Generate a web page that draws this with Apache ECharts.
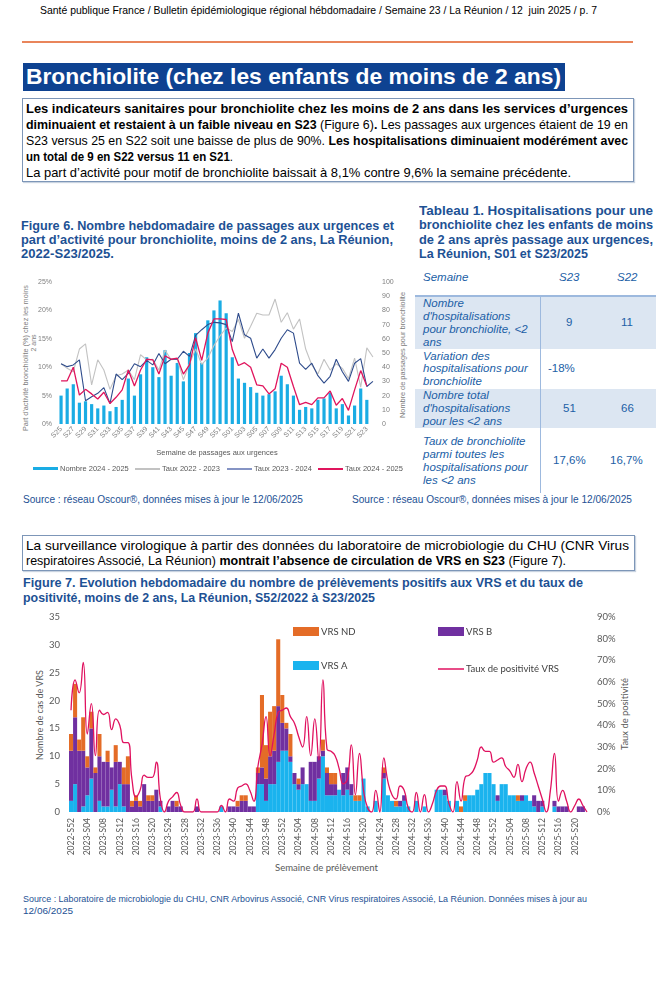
<!DOCTYPE html>
<html><head><meta charset="utf-8">
<script src="https://cdn.jsdelivr.net/npm/echarts@6/dist/echarts.min.js"></script>
<style>
html,body{margin:0;padding:0;background:#fff;}
body{width:664px;height:1000px;position:relative;overflow:hidden;font-family:"Liberation Sans Narrow","Liberation Sans",Arial,sans-serif;color:#000;}
.ln{position:absolute;white-space:nowrap;line-height:1;transform-origin:0 50%;}
.rot{position:absolute;white-space:nowrap;line-height:1;transform-origin:50% 50%;}
.tb{font-weight:bold;color:#1d5194;font-size:13px;}
.tt{font-style:italic;color:#2160a6;font-size:11.5px;font-family:"Liberation Sans",Arial,sans-serif;}
.tv{color:#2160a6;font-size:11.5px;font-family:"Liberation Sans",Arial,sans-serif;}
.src{color:#1d5194;font-size:10px;}
.box{position:absolute;border:1px solid #7d96b8;box-shadow:1px 1px 1px #c9d3e0;}
.an6{font-size:7px;color:#808080;font-family:"Liberation Sans",Arial,sans-serif;}
.an7{font-size:10px;color:#595959;font-family:Lato,"Open Sans",sans-serif;}
</style></head>
<body>
<!-- header -->
<div class="ln" style="left:40px;top:5px;font-size:11px;" data-w="557">Santé publique France / Bulletin épidémiologique régional hébdomadaire / Semaine 23 / La Réunion / 12&nbsp; juin 2025 / p. 7</div>
<div style="position:absolute;left:22px;top:41px;width:611px;height:2px;background:#e9855b;"></div>
<div style="position:absolute;left:23px;top:63px;width:542px;height:28px;background:#0e4291;"></div>
<div class="ln" style="left:26px;top:66px;font-size:22px;font-weight:bold;color:#fff;font-family:'Liberation Sans',Arial,sans-serif;" data-w="535">Bronchiolite (chez les enfants de moins de 2 ans)</div>

<!-- paragraph 1 -->
<div class="box" style="left:22px;top:98px;width:610px;height:82px;"></div>
<div class="ln" style="left:26px;top:101.5px;font-size:13px;" data-w="602"><b>Les indicateurs sanitaires pour bronchiolite chez les moins de 2 ans dans les services d’urgences</b></div>
<div class="ln" style="left:26px;top:117.5px;font-size:13px;" data-w="602"><b>diminuaient et restaient à un faible niveau en S23</b> (Figure 6)<b>.</b> Les passages aux urgences étaient de 19 en</div>
<div class="ln" style="left:26px;top:133.5px;font-size:13px;" data-w="602">S23 versus 25 en S22 soit une baisse de plus de 90%. <b>Les hospitalisations diminuaient modérément avec</b></div>
<div class="ln" style="left:26px;top:149.5px;font-size:13px;" data-w="207"><b>un total de 9 en S22 versus 11 en S21</b>.</div>
<div class="ln" style="left:26px;top:165.5px;font-size:13px;" data-w="545">La part d’activité pour motif de bronchiolite baissait à 8,1% contre 9,6% la semaine précédente.</div>

<!-- figure 6 title -->
<div class="ln tb" style="left:21px;top:218.5px;font-family:'Liberation Sans',Arial,sans-serif;" data-w="373">Figure 6. Nombre hebdomadaire de passages aux urgences et</div>
<div class="ln tb" style="left:21px;top:233px;font-family:'Liberation Sans',Arial,sans-serif;" data-w="372">part d’activité pour bronchiolite, moins de 2 ans, La Réunion,</div>
<div class="ln tb" style="left:21px;top:247px;font-family:'Liberation Sans',Arial,sans-serif;" data-w="93">2022-S23/2025.</div>

<!-- figure 6 axis names -->
<div class="rot an6" style="left:25px;top:358px;" data-w="146">Part d'activité bronchiolite (%) chez les moins</div>
<div class="rot an6" style="left:33px;top:343px;">2 ans</div>
<div class="rot an6" style="left:402px;top:355px;" data-w="126">Nombre de passages pour bronchiolite</div>

<!-- table title -->
<div class="ln tb" style="left:419px;top:203.5px;font-family:'Liberation Sans',Arial,sans-serif;" data-w="234">Tableau 1. Hospitalisations pour une</div>
<div class="ln tb" style="left:419px;top:218px;font-family:'Liberation Sans',Arial,sans-serif;" data-w="234">bronchiolite chez les enfants de moins</div>
<div class="ln tb" style="left:419px;top:232.5px;font-family:'Liberation Sans',Arial,sans-serif;" data-w="234">de 2 ans après passage aux urgences,</div>
<div class="ln tb" style="left:419px;top:247px;font-family:'Liberation Sans',Arial,sans-serif;" data-w="169">La Réunion, S01 et S23/2025</div>

<!-- table -->
<div style="position:absolute;left:415px;top:296px;width:241px;height:53px;background:#dce6f2;"></div>
<div style="position:absolute;left:415px;top:389px;width:241px;height:39px;background:#dce6f2;"></div>
<div style="position:absolute;left:415px;top:295px;width:241px;height:2px;background:#9db9de;"></div>
<div style="position:absolute;left:540px;top:297px;width:1px;height:196px;background:#9db9de;"></div>
<div class="ln tt" style="left:423px;top:272px;">Semaine</div>
<div class="ln tt" style="left:559px;top:272px;">S23</div>
<div class="ln tt" style="left:617px;top:272px;">S22</div>
<div class="ln tt" style="left:423px;top:298px;">Nombre</div>
<div class="ln tt" style="left:423px;top:311px;">d'hospitalisations</div>
<div class="ln tt" style="left:423px;top:324px;">pour bronchiolite, &lt;2</div>
<div class="ln tt" style="left:423px;top:337px;">ans</div>
<div class="ln tv" style="left:566px;top:317px;">9</div>
<div class="ln tv" style="left:621px;top:317px;">11</div>
<div class="ln tt" style="left:423px;top:351px;">Variation des</div>
<div class="ln tt" style="left:423px;top:363px;">hospitalisations pour</div>
<div class="ln tt" style="left:423px;top:376px;">bronchiolite</div>
<div class="ln tv" style="left:548px;top:363px;">-18%</div>
<div class="ln tt" style="left:423px;top:390px;">Nombre total</div>
<div class="ln tt" style="left:423px;top:403px;">d'hospitalisations</div>
<div class="ln tt" style="left:423px;top:416px;">pour les &lt;2 ans</div>
<div class="ln tv" style="left:563px;top:403px;">51</div>
<div class="ln tv" style="left:621px;top:403px;">66</div>
<div class="ln tt" style="left:423px;top:436px;">Taux de bronchiolite</div>
<div class="ln tt" style="left:423px;top:449px;">parmi toutes les</div>
<div class="ln tt" style="left:423px;top:462px;">hospitalisations pour</div>
<div class="ln tt" style="left:423px;top:475px;">les &lt;2 ans</div>
<div class="ln tv" style="left:553px;top:455px;">17,6%</div>
<div class="ln tv" style="left:610px;top:455px;">16,7%</div>

<!-- sources fig 6 / table -->
<div class="ln src" style="left:23px;top:495px;" data-w="280">Source : réseau Oscour®, données mises à jour le 12/06/2025</div>
<div class="ln src" style="left:352px;top:495px;" data-w="280">Source : réseau Oscour®, données mises à jour le 12/06/2025</div>

<!-- paragraph 2 -->
<div class="box" style="left:22px;top:535px;width:611px;height:34px;"></div>
<div class="ln" style="left:26px;top:538.5px;font-size:13px;" data-w="603">La surveillance virologique à partir des données du laboratoire de microbiologie du CHU (CNR Virus</div>
<div class="ln" style="left:26px;top:553.5px;font-size:13px;" data-w="540">respiratoires Associé, La Réunion) <b>montrait l’absence de circulation de VRS en S23</b> (Figure 7).</div>

<!-- figure 7 title -->
<div class="ln tb" style="left:23px;top:575.5px;" data-w="560">Figure 7. Evolution hebdomadaire du nombre de prélèvements positifs aux VRS et du taux de</div>
<div class="ln tb" style="left:23px;top:590.5px;" data-w="352">positivité, moins de 2 ans, La Réunion, S52/2022 à S23/2025</div>

<!-- figure 7 axis names -->
<div class="rot an7" style="left:39px;top:715px;" data-w="90">Nombre de cas de VRS</div>
<div class="rot an7" style="left:624px;top:714px;" data-w="72">Taux de positivité</div>
<div class="ln an7" style="left:275px;top:862px;" data-w="103">Semaine de prélèvement</div>

<div class="ln src" style="left:23px;top:894px;font-size:9.5px;" data-w="564">Source : Laboratoire de microbiologie du CHU, CNR Arbovirus Associé, CNR Virus respiratoires Associé, La Réunion. Données mises à jour au</div>
<div class="ln src" style="left:23px;top:906px;font-size:9.5px;" data-w="50">12/06/2025</div>

<div id="c1" style="position:absolute;left:0;top:255px;width:420px;height:225px;"></div>
<div id="c2" style="position:absolute;left:0;top:600px;width:664px;height:285px;"></div>

<script>
// ---------- Figure 6 data ----------
const weeks6 = ['S25','S26','S27','S28','S29','S30','S31','S32','S33','S34','S35','S36','S37','S38','S39','S40','S41','S42','S43','S44','S45','S46','S47','S48','S49','S50','S51','S52',
 'S01','S02','S03','S04','S05','S06','S07','S08','S09','S10','S11','S12','S13','S14','S15','S16','S17','S18','S19','S20','S21','S22','S23','S24'];
const nombre2425 = [20,25,28,15,16,14,11,13,9,12,17,32,20,35,47,40,33,52,34,43,30,50,64,43,73,80,87,78,
 47,32,29,26,22,20,21,23,34,28,20,10,12,11,17,18,22,11,14,6,13,25,17,null];
const taux2223 = [10.6,9.8,9.2,13.2,14.1,6.9,11.3,9.5,6.1,8.5,8.8,9.5,7.8,12.2,11.3,11.4,9.5,13,11.3,11.4,7.8,10.6,13.2,10.5,11.6,13.8,15.5,16.9,
 16.3,18.4,15.1,17.2,19.5,19.2,19.2,22,17.9,19.6,16.7,18.5,13.2,10.4,8.8,11.4,9.5,10.6,9.8,8,11.6,6.5,13.4,11.8];
const taux2324 = [10.6,10.1,10.4,11.3,4.1,4.8,5.4,6.4,3.6,8.8,7.8,8.9,10.6,10.1,11.2,10.4,12.4,10.6,11.4,11.4,12.8,11.9,15.6,16.6,17.5,17.9,17.8,17.5,
 14.5,19.5,15.7,15.1,11.6,13.2,11.6,13.1,15.1,16.6,16,10.7,9.6,10.7,8.5,7.2,8.4,11.4,9.2,7.5,10.7,11.5,6.6,7.5];
const taux2425 = [7.6,7.6,10,5.1,6.1,5.3,4.4,5.6,3.6,4.7,6,9.5,6.7,9.5,11.4,11.3,8.8,12,11.4,11.6,8.8,10.4,15.2,11.2,16,18.5,18.5,18.4,
 13.1,10.3,10.8,10,6.9,6.7,5.3,6.2,10.7,10,6.6,3.4,3.8,3.4,4.6,4.6,5.8,3.3,4.5,2.4,6,9.4,6.7,null];

// ---------- Figure 7 data ----------
const weeks7 = ['2022-S52'];
[2023,2024].forEach(y=>{for(let w=1;w<=52;w++) weeks7.push(y+'-S'+String(w).padStart(2,'0'));});
for(let w=1;w<=23;w++) weeks7.push('2025-S'+String(w).padStart(2,'0'));
const vrsA = [2,5,0,1,3,6,0,2,1,1,4,1,5,1,0,0,0,0,0,0,0,0,1,0,0,0,0,0,0,0,0,0,0,0,0,0,0,1,0,0,0,0,0,0,0,0,
 5,5,2,5,5,9,11,11,9,5,4,5,5,2,2,6,10,3,3,3,4,3,4,3,2,2,6,1,0,2,0,6,3,2,1,1,2,1,0,2,0,1,0,0,
 4,4,3,2,0,2,0,2,3,3,4,5,7,7,5,2,5,5,3,3,2,2,3,2,1,0,1,0,0,1,0,0,0,0,0,0,0,0];
const vrsB = [9,12,11,10,5,9,7,8,8,8,4,8,4,4,5,1,2,1,5,2,2,4,1,0,1,2,1,1,0,0,0,1,0,0,0,0,0,0,0,1,1,1,2,2,1,1,
 2,3,4,5,6,10,5,4,1,2,1,3,0,7,7,4,1,4,2,2,0,4,4,2,0,0,0,0,0,0,0,1,0,0,0,1,1,0,0,0,0,0,0,0,
 0,0,1,0,0,0,0,0,0,0,0,0,0,0,0,1,0,0,0,0,0,1,0,0,2,2,1,0,0,1,1,1,1,0,0,1,1,0];
const vrsND = [3,6,2,6,2,3,1,4,0,2,0,3,0,3,5,1,1,1,0,1,1,0,0,0,0,0,1,0,0,0,0,0,0,0,0,0,0,0,0,0,0,1,1,1,0,0,
 1,13,6,8,8,12,5,1,4,0,1,0,0,0,0,0,2,1,2,2,0,0,0,0,1,1,0,0,0,0,0,1,0,0,1,0,0,0,0,0,0,0,0,0,
 0,0,0,0,0,0,1,1,0,0,0,0,0,0,0,0,0,0,0,0,1,0,0,0,0,0,0,0,0,0,0,0,0,0,0,0,0,0];
const tauxVRS = [47,61,55,69,36,50,26,47,45,46,38,43,40,32,32,15,7,10,17,16,16,23,6,0,5,7,9,3,0,0,0,6,0,0,0,0,0,3,0,6,5,11,12,13,10,5,
 21,31,44,26,36,46,47,48,44,41,35,30,44,26,43,24,61,29,28,26,20,13,15,31,8,27,10,2,0,10,0,25,14,8,6,12,10,2,0,9,0,8,0,4,
 10,12,12,4,0,14,5,16,17,19,24,30,28,28,23,24,25,21,19,16,22,14,20,23,18,12,6,0,10,27,5,10,5,0,3,6,3,0];

// ---------- fit text lines ----------
document.querySelectorAll('.ln[data-w]').forEach(el=>{
  const w = el.getBoundingClientRect().width;
  const t = parseFloat(el.dataset.w);
  if (w>0) el.style.transform = 'scaleX('+(t/w)+')';
});
document.querySelectorAll('.rot').forEach(el=>{
  const w = el.getBoundingClientRect().width;
  const s = el.dataset.w ? parseFloat(el.dataset.w)/w : 1;
  el.style.transform = 'translate(-50%,-50%) rotate(-90deg) scaleX('+s+')';
});

// ---------- chart 1 ----------
const F1 = 'Liberation Sans, Arial, sans-serif';
const c1 = echarts.init(document.getElementById('c1'));
const lg1 = (name, left, h, top) => ({data:[{name:name, icon:'rect'}], left:left, top:top, padding:0, itemWidth:25, itemHeight:h,
  textStyle:{fontSize:7.5, color:'#595959', fontFamily:F1, padding:[0,0,0,-3]}, selectedMode:false});
c1.setOption({
  animation:false,
  textStyle:{fontFamily:F1},
  grid:{left:58,right:44,top:27,bottom:56},
  legend:[lg1('Nombre 2024 - 2025',33,3,209.5), lg1('Taux 2022 - 2023',135,2,210), lg1('Taux 2023 - 2024',227,2,210), lg1('Taux 2024 - 2025',318,2,210)],
  xAxis:{type:'category', data:weeks6, axisLine:{show:false}, axisTick:{show:false},
    axisLabel:{interval:1, rotate:45, fontSize:7, color:'#808080', margin:4},
    name:'Semaine de passages aux urgences', nameLocation:'middle', nameGap:25,
    nameTextStyle:{fontSize:7.5, color:'#595959'}},
  yAxis:[
    {type:'value', min:0, max:25, interval:5, splitLine:{show:false}, axisLine:{show:false}, axisTick:{show:false},
     axisLabel:{formatter:'{value}%', fontSize:7, color:'#808080', margin:6}},
    {type:'value', min:0, max:100, interval:10, position:'right', splitLine:{show:false}, axisLine:{show:false}, axisTick:{show:false},
     axisLabel:{fontSize:7, color:'#808080', margin:6}}
  ],
  series:[
    {name:'Nombre 2024 - 2025', type:'bar', yAxisIndex:1, data:nombre2425, barWidth:'52%', itemStyle:{color:'#1aace4'}},
    {name:'Taux 2022 - 2023', type:'line', data:taux2223, symbol:'none', lineStyle:{color:'#c2c2c2', width:1.1}, itemStyle:{color:'#c2c2c2'}},
    {name:'Taux 2023 - 2024', type:'line', data:taux2324, symbol:'none', lineStyle:{color:'#2f4c8c', width:1.1}, itemStyle:{color:'#8594c4'}},
    {name:'Taux 2024 - 2025', type:'line', data:taux2425, symbol:'none', lineStyle:{color:'#e0155d', width:1.3}, itemStyle:{color:'#e0155d'}}
  ]
});

// ---------- chart 2 ----------
const F2 = 'Lato, Open Sans, sans-serif';
const c2 = echarts.init(document.getElementById('c2'));
const lg2 = (name, left, h, top) => ({data:[{name:name, icon:'rect'}], left:left, top:top, padding:0, itemWidth:26, itemHeight:h,
  textStyle:{fontSize:9.5, color:'#404040', fontFamily:F2, padding:[0,0,0,-3]}, selectedMode:false});
c2.setOption({
  animation:false,
  textStyle:{fontFamily:F2},
  grid:{left:69,right:75,top:17,bottom:73},
  legend:[lg2('VRS ND',293,9,26.5), lg2('VRS B',438,9,26.5), lg2('VRS A',293,9,60.5), lg2('Taux de positivité VRS',438,1.5,64)],
  xAxis:{type:'category', data:weeks7, axisLine:{show:false}, axisTick:{show:false},
    axisLabel:{interval:3, rotate:90, fontSize:8.5, color:'#595959', margin:6}},
  yAxis:[
    {type:'value', min:0, max:35, interval:5, splitLine:{show:false}, axisLine:{show:false}, axisTick:{show:false},
     axisLabel:{fontSize:9.5, color:'#595959', margin:9}},
    {type:'value', min:0, max:90, interval:10, position:'right', splitLine:{show:false}, axisLine:{show:false}, axisTick:{show:false},
     axisLabel:{formatter:'{value}%', fontSize:9.5, color:'#595959', margin:8}}
  ],
  series:[
    {name:'VRS A', type:'bar', stack:'v', data:vrsA, barCategoryGap:'0%', itemStyle:{color:'#1ab3ee'}},
    {name:'VRS B', type:'bar', stack:'v', data:vrsB, barCategoryGap:'0%', itemStyle:{color:'#7030a0'}},
    {name:'VRS ND', type:'bar', stack:'v', data:vrsND, barCategoryGap:'0%', itemStyle:{color:'#e46c27'}},
    {name:'Taux de positivité VRS', type:'line', yAxisIndex:1, data:tauxVRS, smooth:0.5, symbol:'none', z:5,
     lineStyle:{color:'#e0115f', width:1.3}, itemStyle:{color:'#e0115f'}}
  ]
});
</script>
</body></html>
